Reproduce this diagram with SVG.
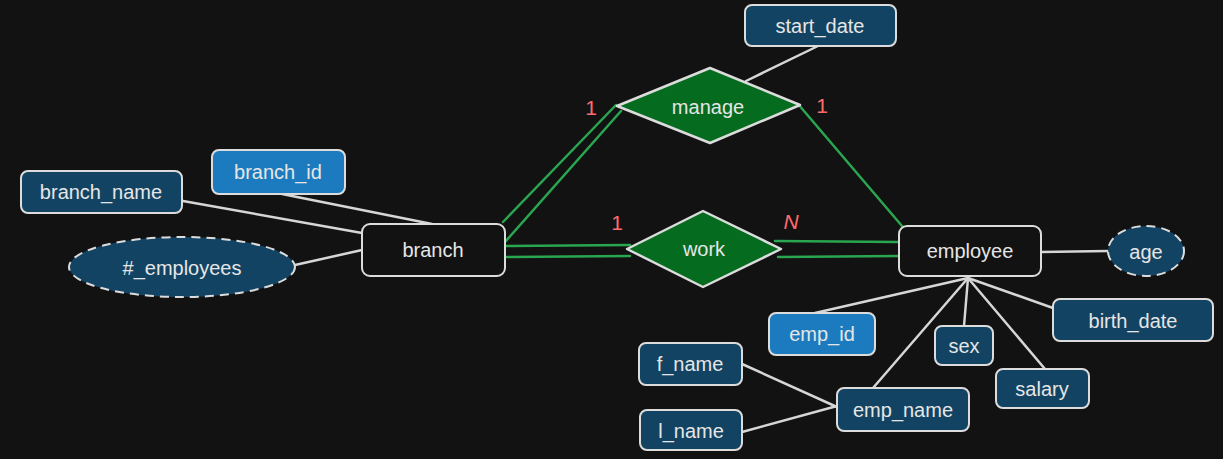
<svg xmlns="http://www.w3.org/2000/svg" width="1223" height="459" viewBox="0 0 1223 459">
<style>
text{font-family:"Liberation Sans",Arial,sans-serif;font-size:20px;fill:#e6e6e6;text-anchor:middle;dominant-baseline:central}
.attr{fill:#124362;stroke:#dcdcdc;stroke-width:2}
.key{fill:#1b7bbe;stroke:#dcdcdc;stroke-width:2}
.ent{fill:#121212;stroke:#dcdcdc;stroke-width:2}
.der{fill:#124362;stroke:#dcdcdc;stroke-width:2;stroke-dasharray:9 6}
.rel{fill:#056b1f;stroke:#dcdcdc;stroke-width:2.5;stroke-linejoin:round}
.l{stroke:#d6d6d6;stroke-width:2.5;fill:none;stroke-linecap:round}
.g{stroke:#2aa650;stroke-width:2.5;fill:none;stroke-linecap:round}
.card{fill:#ff6b6b;font-size:21px}
</style>
<rect width="1223" height="459" fill="#121212"/>
<g id="connectors">
<line class="l" x1="183" y1="201" x2="362" y2="233"/>
<line class="l" x1="282" y1="194" x2="432" y2="224"/>
<line class="l" x1="295" y1="265" x2="362" y2="250"/>
<line class="l" x1="818" y1="46" x2="746" y2="81"/>
<line class="l" x1="1041" y1="252" x2="1108" y2="251"/>
<line class="l" x1="968" y1="278" x2="815" y2="313"/>
<line class="l" x1="968" y1="278" x2="873" y2="388"/>
<line class="l" x1="968" y1="278" x2="964" y2="326"/>
<line class="l" x1="968" y1="278" x2="1045" y2="369"/>
<line class="l" x1="968" y1="278" x2="1053" y2="308"/>
<line class="l" x1="742" y1="364" x2="837" y2="407"/>
<line class="l" x1="742" y1="432" x2="837" y2="406"/>
<line class="g" x1="503" y1="222" x2="616" y2="105"/>
<line class="g" x1="505" y1="242" x2="621" y2="111"/>
<line class="g" x1="506" y1="246" x2="630" y2="245"/>
<line class="g" x1="506" y1="257" x2="630" y2="256"/>
<line class="g" x1="798" y1="104" x2="902" y2="226"/>
<line class="g" x1="775" y1="241" x2="898" y2="242"/>
<line class="g" x1="778" y1="257" x2="898" y2="256"/>
</g>
<g id="branch_name"><rect class="attr" x="21" y="171" width="161" height="42" rx="7"/><text x="101" y="192">branch_name</text></g>
<g id="branch_id"><rect class="key" x="212" y="150" width="133" height="44" rx="7"/><text x="278" y="172">branch_id</text></g>
<g id="num_employees"><ellipse class="der" cx="182" cy="267" rx="113" ry="30"/><text x="182" y="268">#_employees</text></g>
<g id="branch"><rect class="ent" x="362" y="224" width="143" height="52" rx="8"/><text x="433" y="250">branch</text></g>
<g id="start_date"><rect class="attr" x="745" y="5" width="151" height="41" rx="7"/><text x="820" y="26">start_date</text></g>
<g id="manage"><polygon class="rel" points="617,106 710,68 800,105 710,143"/><text x="708" y="107">manage</text></g>
<g id="work"><polygon class="rel" points="627,249 703,211 781,249 703,287"/><text x="704" y="249">work</text></g>
<g id="employee"><rect class="ent" x="899" y="226" width="142" height="50" rx="8"/><text x="970" y="251">employee</text></g>
<g id="age"><ellipse class="der" cx="1146" cy="251" rx="38" ry="25"/><text x="1146" y="252">age</text></g>
<g id="emp_id"><rect class="key" x="769" y="313" width="106" height="42" rx="7"/><text x="822" y="334">emp_id</text></g>
<g id="sex"><rect class="attr" x="935" y="326" width="58" height="39" rx="7"/><text x="964" y="346">sex</text></g>
<g id="birth_date"><rect class="attr" x="1053" y="299" width="160" height="42" rx="7"/><text x="1133" y="321">birth_date</text></g>
<g id="salary"><rect class="attr" x="996" y="369" width="93" height="39" rx="7"/><text x="1042" y="389">salary</text></g>
<g id="emp_name"><rect class="attr" x="837" y="388" width="132" height="43" rx="7"/><text x="903" y="410">emp_name</text></g>
<g id="f_name"><rect class="attr" x="639" y="343" width="103" height="42" rx="7"/><text x="690" y="364">f_name</text></g>
<g id="l_name"><rect class="attr" x="640" y="410" width="102" height="40" rx="7"/><text x="691" y="431">l_name</text></g>
<g id="cardinalities">
<text class="card" x="591" y="107">1</text>
<text class="card" x="822" y="105">1</text>
<text class="card" x="617" y="222">1</text>
<text class="card" x="791" y="221" font-style="italic">N</text>
</g>
</svg>
